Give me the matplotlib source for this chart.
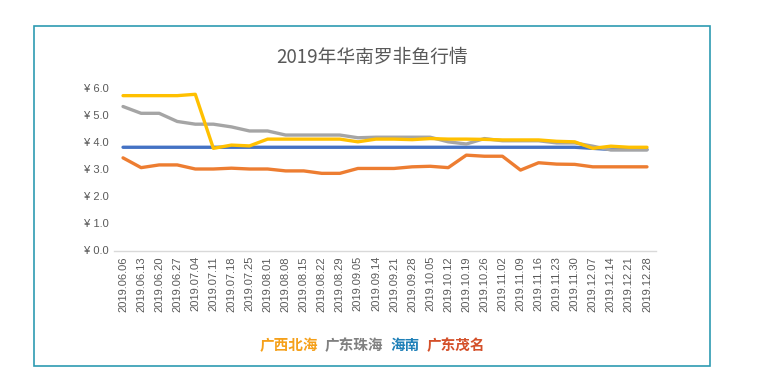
import matplotlib
matplotlib.use("Agg")
import matplotlib.pyplot as plt
from matplotlib.patches import Rectangle
from matplotlib.offsetbox import TextArea, HPacker, AnchoredOffsetbox

plt.rcParams['font.family'] = ['Noto Sans CJK SC', 'DejaVu Sans']

dates = ["2019.06.06", "2019.06.13", "2019.06.20", "2019.06.27", "2019.07.04",
         "2019.07.11", "2019.07.18", "2019.07.25", "2019.08.01", "2019.08.08",
         "2019.08.15", "2019.08.22", "2019.08.29", "2019.09.05", "2019.09.14",
         "2019.09.21", "2019.09.28", "2019.10.05", "2019.10.12", "2019.10.19",
         "2019.10.26", "2019.11.02", "2019.11.09", "2019.11.16", "2019.11.23",
         "2019.11.30", "2019.12.07", "2019.12.14", "2019.12.21", "2019.12.28"]

guangxi_beihai = [5.70, 5.70, 5.70, 5.70, 5.75, 3.76, 3.88, 3.85, 4.10, 4.10,
                  4.10, 4.10, 4.10, 4.00, 4.10, 4.10, 4.08, 4.12, 4.10, 4.10,
                  4.09, 4.07, 4.07, 4.07, 4.02, 4.00, 3.76, 3.84, 3.80, 3.80]
guangdong_zhuhai = [5.30, 5.05, 5.05, 4.75, 4.65, 4.65, 4.55, 4.40, 4.40, 4.25,
                    4.25, 4.25, 4.25, 4.15, 4.17, 4.17, 4.17, 4.17, 4.00, 3.92,
                    4.12, 4.04, 4.04, 4.04, 3.96, 3.96, 3.84, 3.70, 3.70, 3.70]
hainan = [3.80] * 26 + [3.76, 3.72, 3.72, 3.72]
guangdong_maoming = [3.41, 3.05, 3.15, 3.15, 3.00, 3.00, 3.03, 3.00, 3.00, 2.93,
                     2.93, 2.84, 2.84, 3.02, 3.02, 3.02, 3.08, 3.10, 3.05, 3.51,
                     3.47, 3.47, 2.96, 3.23, 3.18, 3.17, 3.08, 3.08, 3.08, 3.08]

yticks = [0, 1, 2, 3, 4, 5, 6]
series_names = ["广西北海", "广东珠海", "海南", "广东茂名"]

W, H = 781, 390
fig = plt.figure(figsize=(W / 100, H / 100), dpi=100)
ax = fig.add_axes([114 / W, (H - 250.5) / H, (656 - 114) / W, (250.5 - 87.5) / H])

x = list(range(len(dates)))
lw = 2.4
ax.plot(x, hainan, color="#4472C4", lw=lw, solid_capstyle="round", zorder=2)
ax.plot(x, guangdong_maoming, color="#ED7D31", lw=lw, solid_capstyle="round", zorder=3)
ax.plot(x, guangdong_zhuhai, color="#A5A5A5", lw=lw, solid_capstyle="round", zorder=4)
ax.plot(x, guangxi_beihai, color="#FFC000", lw=lw, solid_capstyle="round", zorder=5)

ax.set_xlim(-0.5, len(dates) - 0.5)
ax.set_ylim(0, 6)
ax.set_xticks(x)
ax.set_xticklabels(dates, rotation=90, fontsize=8, color="#595959",
                   family=['Liberation Sans', 'DejaVu Sans'])
ax.set_yticks(yticks)
ax.set_yticklabels(["¥ %.1f" % v for v in yticks], fontsize=8, color="#595959",
                   family=['Liberation Sans', 'DejaVu Sans'])
ax.tick_params(axis='both', length=0, pad=4)
for s in ["top", "right", "left"]:
    ax.spines[s].set_visible(False)
ax.spines["bottom"].set_color("#D9D9D9")
ax.spines["bottom"].set_linewidth(1.0)

fig.text(372 / W, 1 - 57 / H, "2019年华南罗非鱼行情", ha="center", va="center",
         fontsize=13.5, color="#595959")

# frame
fig.patches.append(Rectangle((34 / W, 1 - 366 / H), (710 - 34) / W, (366 - 26) / H,
                             transform=fig.transFigure, fill=False,
                             edgecolor="#2E9BB2", lw=1.2))

legend_colors = ["#F5A01A", "#808080", "#1F80B8", "#D4502A"]
areas = [TextArea(n, textprops=dict(color=c, fontsize=10.5, fontweight="bold"))
         for n, c in zip(series_names, legend_colors)]
pack = HPacker(children=areas, align="center", pad=0, sep=5)
box = AnchoredOffsetbox(loc="center", child=pack, frameon=False,
                        bbox_to_anchor=(372 / W, 1 - 345 / H),
                        bbox_transform=fig.transFigure, borderpad=0, pad=0)
fig.add_artist(box)

fig.savefig("out.png", dpi=100)
